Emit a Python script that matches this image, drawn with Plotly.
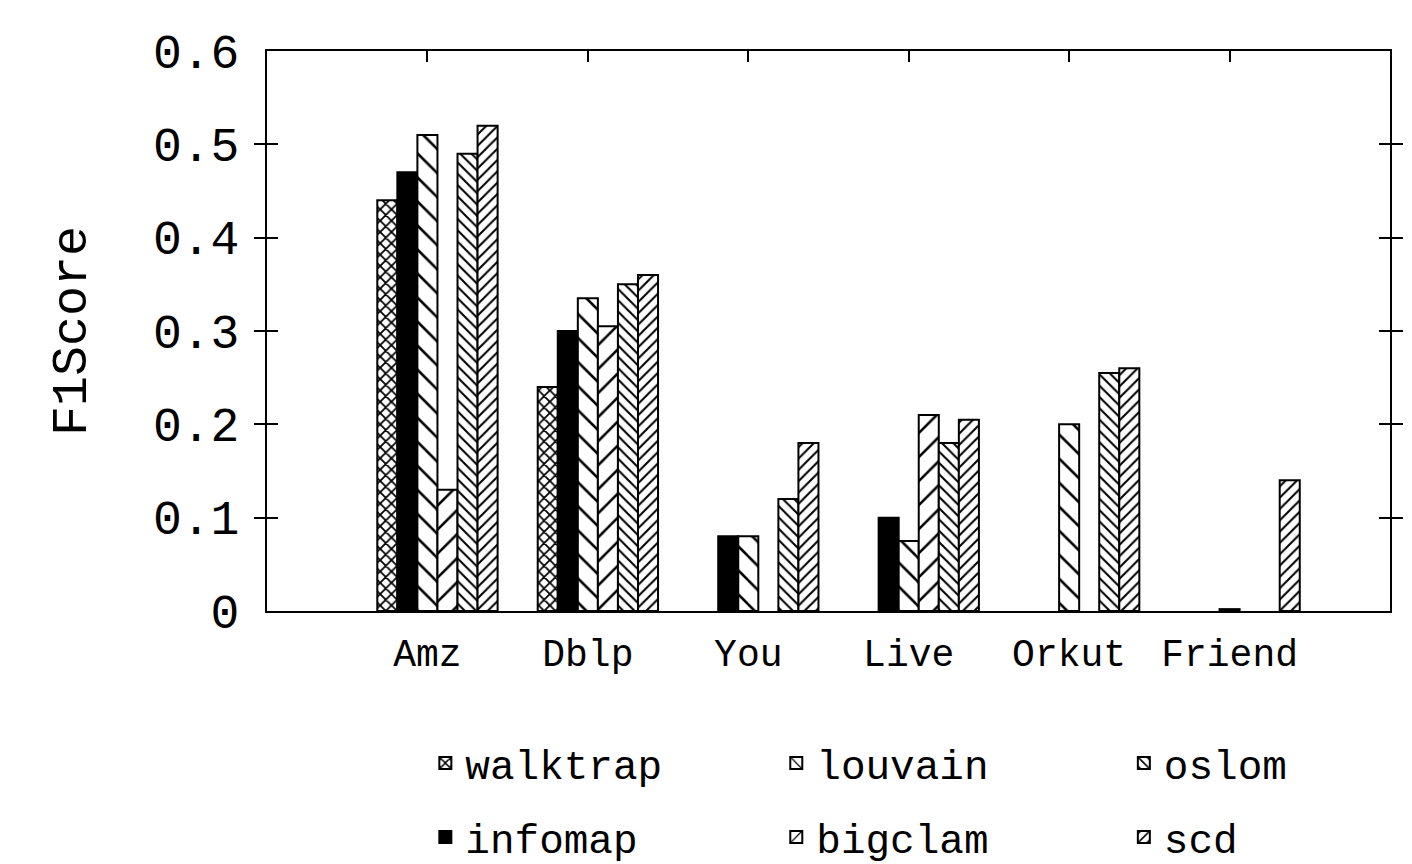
import plotly.graph_objects as go

categories = ["Amz", "Dblp", "You", "Live", "Orkut", "Friend"]
series_names = ["walktrap", "infomap", "louvain", "bigclam", "oslom", "scd"]
walktrap = [0.44, 0.24, None, None, None, None]
infomap = [0.47, 0.30, 0.08, 0.10, None, None]
louvain = [0.51, 0.335, 0.08, 0.075, 0.20, 0.002]
bigclam = [0.13, 0.305, None, 0.21, None, None]
oslom = [0.49, 0.35, 0.12, 0.18, 0.255, None]
scd = [0.52, 0.36, 0.18, 0.205, 0.26, 0.14]
y_ticks = [0, 0.1, 0.2, 0.3, 0.4, 0.5, 0.6]

series_values = [walktrap, infomap, louvain, bigclam, oslom, scd]


def hatch(shape, size, solidity):
    return dict(shape=shape, size=size, solidity=solidity, fgcolor="#000000",
                fgopacity=1, bgcolor="white", fillmode="replace")


styles = {
    "walktrap": dict(color="white", pattern=hatch("x", 8, 0.4)),
    "infomap": dict(color="black"),
    "louvain": dict(color="white", pattern=hatch("\\", 17, 0.15)),
    "bigclam": dict(color="white", pattern=hatch("/", 17, 0.15)),
    "oslom": dict(color="white", pattern=hatch("\\", 8, 0.26)),
    "scd": dict(color="white", pattern=hatch("/", 8, 0.26)),
}
# legend grid: (column, row)
legend_cell = {"walktrap": (0, 0), "louvain": (1, 0), "oslom": (2, 0),
               "infomap": (0, 1), "bigclam": (1, 1), "scd": (2, 1)}
legend_cols_x = [0.141, 0.4535, 0.763]
legend_rows_y = [-0.272, -0.404]

FONT = "Liberation Mono, Courier New, monospace"
n = len(series_names)
bw = 1.0 / (n + 2)

fig = go.Figure()
legend_layouts = {}
for j, (name, vals) in enumerate(zip(series_names, series_values)):
    lname = "legend" if j == 0 else f"legend{j + 1}"
    col, row = legend_cell[name]
    legend_layouts[lname] = dict(
        x=legend_cols_x[col], xanchor="left", y=legend_rows_y[row], yanchor="middle",
        font=dict(size=41, family=FONT, color="black"), bgcolor="rgba(0,0,0,0)",
        borderwidth=0,
    )
    fig.add_trace(go.Bar(
        x=categories, y=vals, name=name,
        width=bw, offset=(j - 2) * bw - bw / 2,
        marker=dict(line=dict(color="black", width=2), opacity=1, **styles[name]),
        legend=lname,
    ))

fig.update_layout(
    width=1404, height=856,
    margin=dict(l=259, r=22, t=43, b=253, autoexpand=False),
    paper_bgcolor="white", plot_bgcolor="white",
    barmode="overlay",
    font=dict(family=FONT, color="black"),
    xaxis=dict(
        type="category", categoryorder="array", categoryarray=categories,
        range=[-1, 6], showline=True, linecolor="black", linewidth=2, mirror=True,
        ticks="", showgrid=False, zeroline=False,
        tickfont=dict(size=38, family=FONT), ticklabelstandoff=7,
    ),
    xaxis2=dict(
        overlaying="x", side="top", type="linear", range=[-1, 6],
        tickvals=list(range(len(categories))), ticks="inside", ticklen=11,
        tickwidth=2, tickcolor="black", showticklabels=False, showgrid=False,
        zeroline=False, showline=False,
    ),
    yaxis=dict(
        range=[0, 0.6], tickvals=y_ticks, ticktext=[f"{v:g}" for v in y_ticks],
        ticks="inside", ticklen=11, tickwidth=2, tickcolor="black",
        showline=True, linecolor="black", linewidth=2, mirror="allticks",
        showgrid=False, zeroline=False,
        tickfont=dict(size=48, family=FONT), ticklabelstandoff=16,
        title=dict(text="F1Score", font=dict(size=50, family=FONT), standoff=50),
    ),
    **legend_layouts,
)
# invisible helper so the top tick axis is drawn
fig.add_trace(go.Scatter(x=[0], y=[0], xaxis="x2", mode="markers",
                         marker=dict(opacity=0), showlegend=False, hoverinfo="skip"))

fig.write_html("out.html")
